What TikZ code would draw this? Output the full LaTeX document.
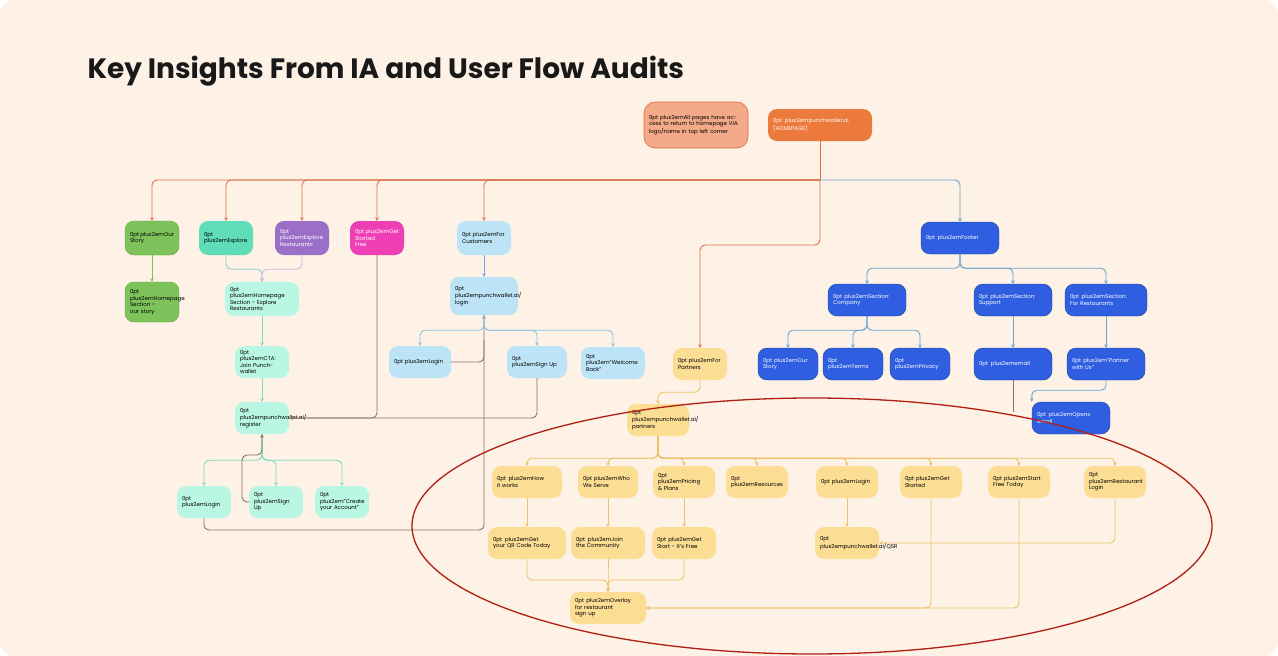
\documentclass[tikz,border=0pt]{standalone}
\usepackage{fontspec}
\setmainfont{Poppins}
\usetikzlibrary{arrows.meta}
\definecolor{bg}{HTML}{FDF2E5}
\definecolor{org}{HTML}{EB7A3C}
\definecolor{orgl}{HTML}{D9704A}
\definecolor{peach}{HTML}{F4A988}
\definecolor{grn}{HTML}{7DC25A}
\definecolor{grnd}{HTML}{5FA040}
\definecolor{teal}{HTML}{5EDDB8}
\definecolor{purp}{HTML}{9B6FC8}
\definecolor{pink}{HTML}{EE3FB5}
\definecolor{lblue}{HTML}{BDE3F7}
\definecolor{lbl}{HTML}{8CC3E0}
\definecolor{mint}{HTML}{B9F7E4}
\definecolor{mintl}{HTML}{7FD9C3}
\definecolor{blu}{HTML}{2F5FE0}
\definecolor{blul}{HTML}{6AA4D0}
\definecolor{yel}{HTML}{FBDE94}
\definecolor{yell}{HTML}{EBC266}
\definecolor{gry}{HTML}{857565}
\definecolor{red}{HTML}{B01E14}
\tikzset{
 x=1pt,y=-1pt,
 bx/.style={rounded corners=9pt,align=center,font=\fontsize{5.5}{6.5}\selectfont\hyphenpenalty=10000\exhyphenpenalty=10000,inner sep=1pt},
 bw/.style 2 args={bx,minimum width=#1,minimum height=#2,text width=#1-10pt},
 og/.style={bx,fill=org,text=white},
 gn/.style={bx,fill=grn,draw=grnd,line width=0.4pt},
 tl/.style={bx,fill=teal},
 pu/.style={bx,fill=purp,text=white},
 pk/.style={bx,fill=pink,text=white},
 lb/.style={bx,fill=lblue},
 mn/.style={bx,fill=mint},
 bl/.style={bx,fill=blu,text=white,draw=blu!70!black,line width=0.4pt},
 yl/.style={bx,fill=yel},
 ea/.style={draw=#1,line width=0.9pt,rounded corners=5pt,-{Stealth[length=3.5pt,width=3.5pt]}},
 el/.style={draw=#1,line width=0.9pt,rounded corners=5pt},
}
\begin{document}
\begin{tikzpicture}
\fill[white] (0,0) rectangle (1278,656);
\fill[bg,rounded corners=14pt] (0,0) rectangle (1278,656);
\useasboundingbox (0,0) rectangle (1278,656);
\node[anchor=base west,font=\fontsize{28}{32}\selectfont\bfseries,text=black!90] (title) at (84,78) {Key Insights From IA and User Flow Audits};

\node[bx,bw={104pt}{46pt},fill=peach,draw=orgl,line width=0.6pt,rounded corners=11pt] (note) at (696,125) {All pages have access to return to homepage VIA logo/name in top left corner};
\node[og,bw={104pt}{32pt}] (home) at (820,125) {punchwallet.ai\\(HOMEPAGE)};

\node[gn,bw={54pt}{34pt}] (ostory) at (152,238) {Our Story};
\node[tl,bw={54pt}{34pt}] (explore) at (226,238) {Explore};
\node[pu,bw={54pt}{34pt}] (exrest) at (302,238) {Explore Restaurants};
\node[pk,bw={54pt}{34pt}] (gsf) at (377,238) {Get Started\\Free};
\node[lb,bw={54pt}{34pt}] (forc) at (484,238) {For Customers};
\node[gn,bw={54pt}{40pt}] (hsos) at (152,302) {Homepage Section - our story};
\node[mn,bw={74pt}{34pt}] (hser) at (262,299) {Homepage Section - Explore Restaurants};
\node[mn,bw={54pt}{32pt}] (cta) at (262,362) {CTA: Join Punchwallet};
\node[mn,bw={54pt}{32pt}] (reg) at (262,418) {punchwallet.ai/ register};
\node[mn,bw={54pt}{32pt}] (rlogin) at (204,502) {Login};
\node[mn,bw={54pt}{32pt}] (rsign) at (276,502) {Sign Up};
\node[mn,bw={54pt}{32pt}] (rcreate) at (342,502) {"Create your Account"};
\node[lb,bw={68pt}{38pt}] (plogin) at (484,296) {punchwallet.ai/\\login};
\node[lb,bw={62pt}{32pt}] (clogin) at (420,362) {Login};
\node[lb,bw={60pt}{32pt}] (csign) at (537,362) {Sign Up};
\node[lb,bw={64pt}{32pt}] (cwel) at (613,363) {"Welcome Back"};

\node[bl,bw={78pt}{32pt}] (footer) at (960,238) {Footer};
\node[bl,bw={78pt}{32pt}] (scomp) at (867,300) {Section: Company};
\node[bl,bw={78pt}{32pt}] (ssup) at (1013,300) {Section: Support};
\node[bl,bw={82pt}{32pt}] (sfr) at (1106,300) {Section: For Restaurants};
\node[bl,bw={60pt}{32pt}] (fstory) at (788,364) {Our Story};
\node[bl,bw={60pt}{32pt}] (terms) at (853,364) {Terms};
\node[bl,bw={60pt}{32pt}] (priv) at (920,364) {Privacy};
\node[bl,bw={78pt}{32pt}] (email) at (1013,364) {email};
\node[bl,bw={78pt}{32pt}] (pwu) at (1106,364) {"Partner with Us"};
\node[bl,bw={78pt}{32pt}] (opens) at (1071,418) {Opens email};

\node[yl,bw={54pt}{32pt}] (forp) at (700,364) {For Partners};
\node[yl,bw={62pt}{32pt}] (partners) at (658,420) {punchwallet.ai/ partners};
\node[yl,bw={70pt}{32pt}] (how) at (527,482) {How it works};
\node[yl,bw={60pt}{32pt}] (who) at (608,482) {Who We Serve};
\node[yl,bw={62pt}{32pt}] (price) at (684,482) {Pricing \& Plans};
\node[yl,bw={62pt}{32pt}] (res) at (757,482) {Resources};
\node[yl,bw={62pt}{32pt}] (plog) at (847,482) {Login};
\node[yl,bw={62pt}{32pt}] (gst) at (931,482) {Get Started};
\node[yl,bw={62pt}{32pt}] (sft) at (1019,482) {Start Free Today};
\node[yl,bw={62pt}{32pt}] (rlog) at (1115,482) {Restaurant Login};
\node[yl,bw={78pt}{32pt}] (qr) at (527,543) {Get your QR Code Today};
\node[yl,bw={74pt}{32pt}] (join) at (608,543) {Join the Community};
\node[yl,bw={64pt}{32pt}] (gsif) at (684,543) {Get Start - It's Free};
\node[yl,bw={64pt}{32pt}] (qsr) at (847,543) {punchwallet.ai/QSR};
\node[yl,bw={76pt}{32pt}] (over) at (608,608) {Overlay for restaurant\\sign up};

% orange bus
\coordinate (hb) at (820,180);
\draw[el=orgl] (home.south) -- (hb);
\foreach \n in {ostory,explore,exrest,gsf,forc}
  \draw[ea=orgl] (hb) -| (\n.north);
\draw[ea=orgl] (hb) -- (820,245) -| (forp.north);
\draw[ea=blul] (hb) -| (footer.north);
% footer
\foreach \n in {scomp,ssup,sfr}
  \draw[ea=blul] (footer.south) -- ++(0,14) -| (\n.north);
\foreach \n in {fstory,terms,priv}
  \draw[ea=blul] (scomp.south) -- ++(0,14) -| (\n.north);
\draw[ea=blul] (ssup) -- (email);
\draw[ea=blul] (sfr) -- (pwu);
\draw[ea=blul] (pwu.south) -- ++(0,10) -| (opens.north west);
\draw[el=gry] (email.south) -- (1013,412);
% left
\draw[ea=grn] (ostory) -- (hsos);
\draw[ea=lbl!60!mintl] (explore.south) -- ++(0,14) -| (hser.north);
\draw[ea=purp!50] (exrest.south) -- ++(0,14) -| (hser.north);
\draw[ea=mintl] (hser) -- (cta);
\draw[ea=mintl] (cta) -- (reg);
\draw[ea=gry] (gsf.south) |- (reg.east);
\draw[ea=gry] (csign.south) |- (reg.east);
\foreach \n in {rlogin,rsign,rcreate}
  \draw[ea=mintl!80!teal] (reg.south) -- ++(0,26) -| (\n.north);
\draw[ea=gry] (rsign.west) -- (242,502) |- (262,455) -- (reg.south);
\draw[ea=gry] (rlogin.south) |- (484,530) -- (plogin.south);
\draw[el=gry] (clogin.east) -| (484,340);
\draw[ea=blu!60] (forc) -- (plogin);
\foreach \n in {clogin,csign,cwel}
  \draw[ea=lbl] (plogin.south) -- ++(0,15) -| (\n.north);
% partners
\draw[ea=yell] (forp.south) -- ++(0,12) -| (partners.north);
\foreach \n in {how,who,price,res,plog,gst,sft,rlog}
  \draw[ea=yell] (partners.south) -- ++(0,22) -| (\n.north);
\draw[ea=yell] (how) -- (qr);
\draw[ea=yell] (who) -- (join);
\draw[ea=yell] (price) -- (gsif);
\draw[ea=yell] (plog) -- (qsr);
\draw[ea=yell] (rlog.south) |- (qsr.east);
\foreach \n in {qr,join,gsif}
  \draw[ea=yell] (\n.south) |- (608,580) -- (over.north);
\draw[ea=yell] (gst.south) |- (over.east);
\draw[ea=yell] (sft.south) |- (over.east);
% red ellipse
\draw[red,line width=1.3pt] (812,526) ellipse [x radius=400,y radius=128];
\end{tikzpicture}
\end{document}
